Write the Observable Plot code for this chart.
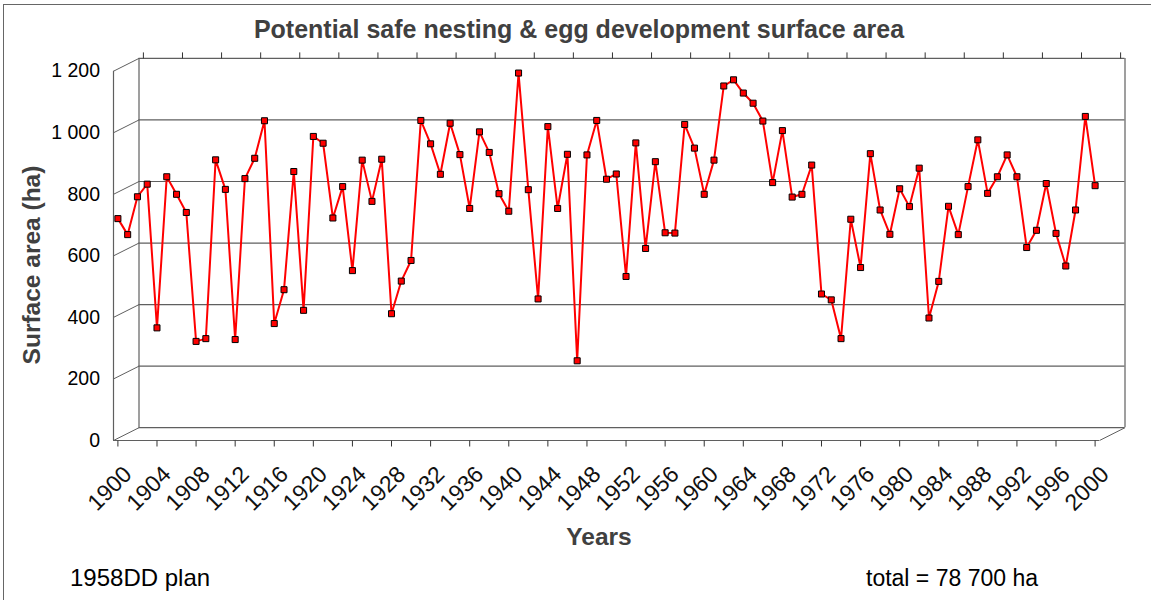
<!DOCTYPE html>
<html>
<head>
<meta charset="utf-8">
<script src="https://cdn.jsdelivr.net/npm/d3@7"></script>
<script src="https://cdn.jsdelivr.net/npm/@observablehq/plot@0.6"></script>
<style>
  html, body { margin: 0; padding: 0; background: #fff; overflow: hidden; }
  #wrap { position: relative; width: 1151px; height: 600px; font-family: "Liberation Sans", Arial, sans-serif; }
  #wrap svg { position: absolute; left: 0; top: 0; }
  .lbl { position: absolute; white-space: nowrap; line-height: normal; }
  .border { position: absolute; left: 3px; top: 4px; width: 1300px; height: 800px; border: 1px solid #666; box-sizing: border-box; pointer-events: none; }
</style>
</head>
<body>
<div id="wrap">
  <div class="border"></div>
</div>
<script>
// ---- data ----
const startYear = 1900;
const surfaceArea = [
  721, 669, 792, 833, 366, 857, 800, 741, 322, 331,
  912, 816, 328, 851, 917, 1039, 380, 490, 874, 423,
  988, 966, 723, 825, 552, 911, 777, 914, 412, 518,
  585, 1040, 964, 865, 1031, 929, 754, 1003, 936, 802,
  745, 1194, 815, 460, 1020, 754, 930, 259, 928, 1040,
  849, 866, 533, 967, 624, 906, 675, 674, 1027, 950,
  800, 911, 1152, 1172, 1129, 1096, 1038, 838, 1007, 791,
  800, 895, 476, 457, 331, 719, 562, 932, 749, 670,
  818, 760, 885, 398, 517, 761, 669, 825, 977, 803,
  857, 928, 857, 627, 683, 835, 673, 567, 749, 1053, 828
];
const xTickYears = [1900,1904,1908,1912,1916,1920,1924,1928,1932,1936,1940,1944,1948,1952,1956,1960,1964,1968,1972,1976,1980,1984,1988,1992,1996,2000];
const yTicks = [0, 200, 400, 600, 800, 1000, 1200];
const titleText = "Potential safe nesting & egg development surface area";
const yTitle = "Surface area (ha)";
const xTitle = "Years";
const noteLeft = "1958DD plan";
const noteRight = "total = 78 700 ha";

const data = surfaceArea.map((v, i) => ({year: startYear + i, value: v}));

// ---- layout ----
const W = 1151, H = 600, ML = 113, MR = 52, MT = 70.7, MB = 160;
const X0 = 1899.55, X1 = 2000.45, Y0 = 0, Y1 = 1200;
const kx = (W - ML - MR) / (X1 - X0);   // px per year
const ky = (H - MT - MB) / (Y1 - Y0);   // px per unit
const DX = 25.5 / kx;                   // depth offset in years
const DY = 12.8 / ky;                   // depth offset in value units
const TICK = 6 / ky;

const font = "Liberation Sans, Arial, sans-serif";
const wall = "#5f5f5f";
const fmt = d => d3.format(",")(d).replace(/,/g, " ");

const chart = Plot.plot({
  width: W, height: H,
  marginLeft: ML, marginRight: MR, marginTop: MT, marginBottom: MB,
  x: {domain: [X0, X1], axis: null},
  y: {domain: [Y0, Y1], axis: null},
  style: {background: "transparent", overflow: "visible"},
  marks: [
    // back wall gridlines
    Plot.ruleY(yTicks, {y: d => d + DY, x1: X0 + DX, x2: X1 + DX, stroke: wall, strokeWidth: 1.2}),
    // back wall vertical edges
    Plot.ruleX([X0 + DX, X1 + DX], {y1: Y0 + DY, y2: Y1 + DY, stroke: wall, strokeWidth: 1.2}),
    // left wall diagonals
    Plot.link(yTicks, {x1: X0, y1: d => d, x2: X0 + DX, y2: d => d + DY, stroke: wall, strokeWidth: 1}),
    // floor right diagonal
    Plot.link([Y0], {x1: X1, y1: d => d, x2: X1 + DX, y2: d => d + DY, stroke: wall, strokeWidth: 1}),
    // front axes
    Plot.ruleX([X0], {y1: Y0, y2: Y1, stroke: wall, strokeWidth: 1.2}),
    Plot.ruleY([Y0], {x1: X0, x2: X1, stroke: wall, strokeWidth: 1.2}),
    // bottom ticks
    Plot.link(xTickYears, {x1: d => d, x2: d => d, y1: Y0, y2: Y0 - TICK, stroke: "#333", strokeWidth: 1}),
    // top ticks on back wall
    Plot.link(xTickYears, {x1: d => d + DX, x2: d => d + DX, y1: Y1 + DY, y2: Y1 + DY + TICK, stroke: "#333", strokeWidth: 1}),
    // y tick labels
    Plot.text(yTicks, {x: X0, y: d => d, text: fmt, textAnchor: "end", dx: -13.5, fontSize: 19.5, fontFamily: font, fill: "#000"}),
    // x tick labels
    Plot.text(xTickYears, {x: d => d, y: Y0, text: d => String(d), rotate: -45, textAnchor: "end", lineAnchor: "middle", dx: 10, dy: 30, fontSize: 23, fontFamily: font, fill: "#111"}),
    // series
    Plot.line(data, {x: "year", y: "value", stroke: "#ff0000", strokeWidth: 2}),
    Plot.dot(data, {x: "year", y: "value", symbol: "square", r: 3.4, fill: "#ff0000", stroke: "#000", strokeWidth: 1})
  ]
});

const wrap = document.getElementById("wrap");
wrap.prepend(chart);

function addLabel(text, css) {
  const d = document.createElement("div");
  d.className = "lbl";
  d.textContent = text;
  Object.assign(d.style, css);
  wrap.appendChild(d);
  return d;
}
// title
addLabel(titleText, {left: "0px", width: "1158px", textAlign: "center", top: (37.7 - 0.905 * 25) + "px", fontSize: "25px", fontWeight: "bold", color: "#404040"});
// x title
addLabel(xTitle, {left: "0px", width: "1198px", textAlign: "center", top: (545 - 0.905 * 24.5) + "px", fontSize: "24.5px", fontWeight: "bold", color: "#404040"});
// y title rotated
const yt = addLabel(yTitle, {left: "0px", top: "0px", fontSize: "24.5px", fontWeight: "bold", color: "#404040", transformOrigin: "0 0"});
const yw = yt.getBoundingClientRect().width;
const yh = yt.getBoundingClientRect().height;
yt.style.transform = `translate(${32 - yh / 2}px, ${265 + yw / 2}px) rotate(-90deg)`;
// footer notes
addLabel(noteLeft, {left: "70px", top: (586 - 0.905 * 24) + "px", fontSize: "24px", color: "#000"});
addLabel(noteRight, {left: "866px", top: (586 - 0.905 * 23) + "px", fontSize: "23px", color: "#000"});
</script>
</body>
</html>
